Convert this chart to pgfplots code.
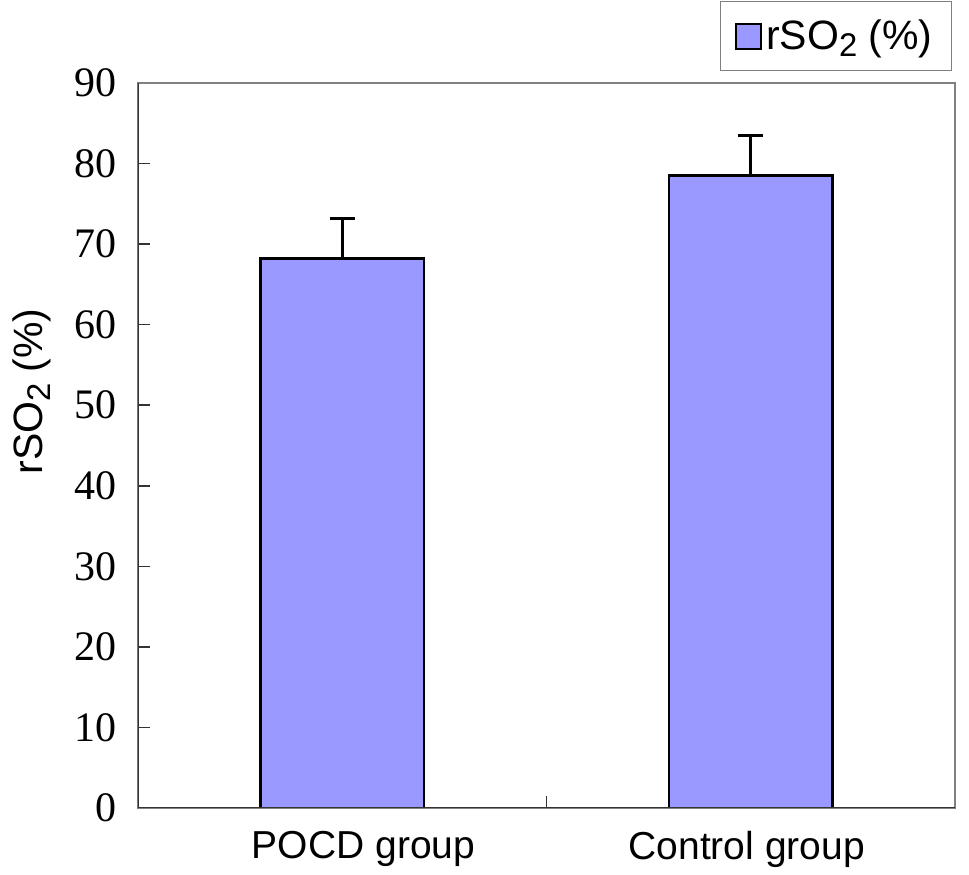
\documentclass[border=0pt]{standalone}
\usepackage{pgfplots}
\pgfplotsset{compat=1.18}
\usepackage{fontspec}
\setmainfont{Liberation Serif}
\newfontfamily\arial{Liberation Sans}
\definecolor{barblue}{RGB}{153,153,255}
\newcommand{\rsotwo}{rSO\raisebox{-0.35ex}{\scalebox{0.8}{2}} (\%)}
\begin{document}
\begin{tikzpicture}
\begin{axis}[
    scale only axis,
    width=408.5pt, height=362.5pt,
    xmin=0.5, xmax=2.5,
    ymin=0, ymax=90,
    ytick={0,10,...,90},
    ytick pos=left,
    xtick={1.052,1.99},
    xticklabels={POCD group, Control group},
    xtick style={draw=none},
    ytick style={black!80, line width=0.8pt},
    tick align=inside,
    major tick length=6pt,
    axis line style={gray, line width=1pt},
    tick label style={font=\fontsize{21}{24}\selectfont},
    x tick label style={font=\arial\fontsize{19.5}{23}\selectfont, yshift=-8pt},
    yticklabel style={xshift=-7pt},
    /pgf/number format/assume math mode=true,
    ylabel={\rsotwo},
    ylabel style={font=\arial\fontsize{20.5}{24}\selectfont, at={(axis description cs:0,0.5)}, anchor=center, yshift=53pt, xshift=27pt},
    legend style={at={(axis description cs:1,1)}, anchor=south east, xshift=-1.5pt, yshift=6pt,
        draw=gray, line width=0.6pt, font=\arial\fontsize{20.5}{24}\selectfont,
        inner xsep=7.5pt, inner ysep=7pt},
    legend image code/.code={\draw[#1, line width=1pt] (0pt,-6.5pt) rectangle (12.5pt,6pt);},
]
\addplot[ybar, bar width=0.4, fill=barblue, draw=black, line width=1.3pt,
    error bars/.cd, y dir=plus, y explicit,
    error bar style={line width=1.3pt, black},
    error mark options={rotate=90, mark size=6.25pt, line width=1.4pt}]
    coordinates {(1,68.2) +- (0,5.0) (2,78.5) +- (0,5.0)};
\addlegendentry{\rsotwo}
\draw[black!80, line width=1pt] (rel axis cs:0,1) -- (rel axis cs:0,0) -- (rel axis cs:1,0);
\draw[black!80, line width=0.8pt] (axis cs:1.5,0) -- ([yshift=6pt]axis cs:1.5,0);
\end{axis}
\path ([xshift=-69pt,yshift=-33.5pt]current axis.south west) rectangle ([xshift=7pt,yshift=41.5pt]current axis.north east);
\end{tikzpicture}
\end{document}
